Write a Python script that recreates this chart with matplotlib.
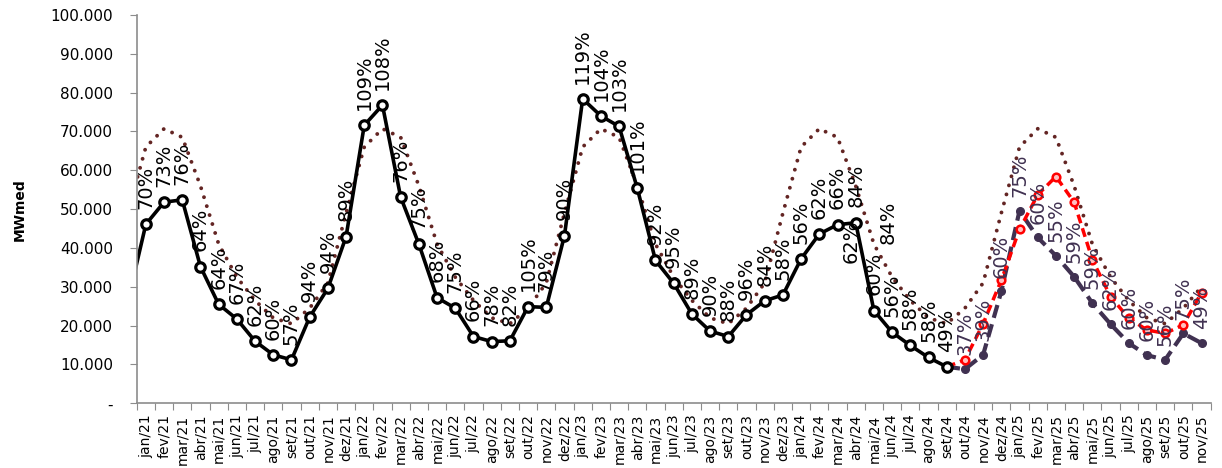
#! /usr/bin/env python3

import numpy as np
from matplotlib import pyplot as plt
from matplotlib.ticker import FixedLocator, FuncFormatter

# months, dez/20 .. nov/25 (dez/20 only feeds the clipped line start)
months = ["jan", "fev", "mar", "abr", "mai", "jun", "jul", "ago", "set", "out", "nov", "dez"]
years = ["21", "22", "23", "24", "25"]

# verified energy (thousand MWmed), dez/20 .. set/24
actual = [
    26.0,
    46.1, 51.8, 52.4, 35.2, 25.5, 21.7, 16.0, 12.5, 11.2, 22.2, 29.6, 42.9,
    71.6, 76.8, 53.1, 41.0, 27.2, 24.5, 17.2, 15.9, 16.1, 24.9, 24.7, 43.2,
    78.4, 74.0, 71.3, 55.4, 36.8, 30.9, 23.0, 18.6, 17.2, 22.8, 26.4, 27.9,
    37.2, 43.6, 46.0, 46.5, 23.9, 18.3, 14.9, 11.8, 9.4,
]
actual_pct = [
    "70%", "73%", "76%", "64%", "64%", "67%", "62%", "60%", "57%", "94%", "94%", "89%",
    "109%", "108%", "76%", "75%", "68%", "75%", "66%", "78%", "82%", "105%", "79%", "90%",
    "119%", "104%", "103%", "101%", "92%", "95%", "89%", "90%", "88%", "96%", "84%", "58%",
    "56%", "62%", "66%", "84%", "60%", "56%", "58%", "58%", "49%",
]
# two stray labels sitting near abr/24 and mai/24
extra_pct = {"abr/24": "62%", "mai/24": "84%"}

# long term average (thousand MWmed), dez/20 .. nov/25
mlt = [
    49.0,
    66.0, 70.7, 68.5, 56.0, 41.0, 32.5, 26.5, 22.0, 20.5, 24.5, 31.0, 49.0,
    66.0, 70.7, 68.5, 56.0, 41.0, 32.5, 26.5, 22.0, 20.5, 24.5, 31.0, 49.0,
    66.0, 70.7, 68.5, 56.0, 41.0, 32.5, 26.5, 22.0, 20.5, 24.5, 31.0, 49.0,
    66.0, 70.7, 68.5, 56.0, 41.0, 32.5, 26.5, 22.0, 20.5, 24.5, 31.0, 49.0,
    66.0, 70.7, 68.5, 56.0, 41.0, 32.5, 26.5, 22.0, 20.5, 24.5, 30.0,
]

# forecasts, set/24 .. nov/25
forecast_a = [9.4, 11.2, 20.5, 31.7, 44.8, 53.7, 58.4, 51.8, 37.0, 27.5, 21.9, 18.9, 18.0, 20.2, 28.5]
forecast_b = [9.4, 8.8, 12.5, 28.8, 49.6, 42.7, 38.0, 32.6, 25.8, 20.4, 15.5, 12.4, 11.2, 18.0, 15.5]
forecast_b_pct = ["37%", "39%", "60%", "75%", "60%", "55%", "59%", "59%", "62%", "60%", "60%", "56%", "75%", "49%"]

labels = [f"{m}/{y}" for y in years for m in months][:59]

# x positions: jan/21 = 0
x_act = np.arange(len(actual)) - 1
x_mlt = np.arange(len(mlt)) - 1
x_fc = np.arange(len(forecast_a)) + labels.index("set/24")

fig = plt.figure(figsize=(12.22, 4.68), dpi=100)
ax = fig.add_axes([0.1119, 0.1382, 0.8788, 0.8298])

c_mlt = "#632523"
c_navy = "#403151"
k = 1000

kw_mlt = {"c": c_mlt, "lw": 2.8, "ls": (0, (0.01, 2.4)), "dash_capstyle": "round"}
kw_b = {"c": c_navy, "lw": 3.0, "ls": (0, (3.2, 1.6)), "marker": "o", "ms": 5.5,
        "mfc": c_navy, "mec": c_navy, "markevery": list(range(1, len(forecast_b)))}
kw_a = {"c": "red", "lw": 2.5, "ls": (0, (2.6, 1.5)), "marker": "o", "ms": 5.5,
        "mfc": "#ffc0c0", "mec": "red", "mew": 1.8, "markevery": list(range(1, len(forecast_a)))}
kw_act = {"c": "k", "lw": 2.6, "marker": "o", "ms": 6.8, "mfc": "white", "mec": "k", "mew": 2.3}

ax.plot(x_mlt, np.array(mlt) * k, **kw_mlt)
ax.plot(x_fc, np.array(forecast_b) * k, **kw_b)
ax.plot(x_fc, np.array(forecast_a) * k, **kw_a)
ax.plot(x_act, np.array(actual) * k, **kw_act)

# data labels
kw_lab = {"rotation": 90, "ha": "center", "va": "bottom", "fontsize": 14,
          "textcoords": "offset points", "annotation_clip": False}
for xi, yi, s in zip(x_act[1:], actual[1:], actual_pct):
    ax.annotate(s, (xi, yi * k), xytext=(0, 11), color="k", **kw_lab)

i = labels.index("abr/24")
ax.annotate(extra_pct["abr/24"], (i, actual[i + 1] * k), xytext=(-3, 2),
            color="k", **{**kw_lab, "va": "top"})
i = labels.index("mai/24")
ax.annotate(extra_pct["mai/24"], (i, actual[i + 1] * k), xytext=(10, 48),
            color="k", **kw_lab)

for xi, yi, s in zip(x_fc[1:], forecast_b[1:], forecast_b_pct):
    ax.annotate(s, (xi, yi * k), xytext=(0, 10), color=c_navy, **kw_lab)

# axes
ax.set_xlim(-0.5, len(labels) - 0.5)
ax.set_ylim(0, 100000)
ax.set_yticks(np.arange(0, 100001, 10000))
ax.yaxis.set_major_formatter(
    FuncFormatter(lambda v, p: "-" if v == 0 else f"{int(v):,}".replace(",", "."))
)
ax.xaxis.set_major_locator(FixedLocator(np.arange(len(labels) + 1) - 0.5))
ax.xaxis.set_major_formatter(FuncFormatter(lambda v, p: ""))
ax.xaxis.set_minor_locator(FixedLocator(np.arange(len(labels))))
ax.xaxis.set_minor_formatter(FuncFormatter(lambda v, p: labels[int(round(v))]))

grey = "#8c8c8c"
for s in ["top", "right"]:
    ax.spines[s].set_visible(False)
for s in ["left", "bottom"]:
    ax.spines[s].set_color(grey)
    ax.spines[s].set_linewidth(1.2)

ax.tick_params(axis="y", which="major", length=5, color=grey, labelsize=11, pad=12)
ax.tick_params(axis="x", which="major", length=5, color=grey)
ax.tick_params(axis="x", which="minor", length=0, labelsize=10, pad=8, labelrotation=90)

ax.set_ylabel("MWmed", fontsize=10, fontweight="bold")
ax.yaxis.set_label_coords(-0.102, 0.5)

fig.savefig("out.png", dpi=100)
